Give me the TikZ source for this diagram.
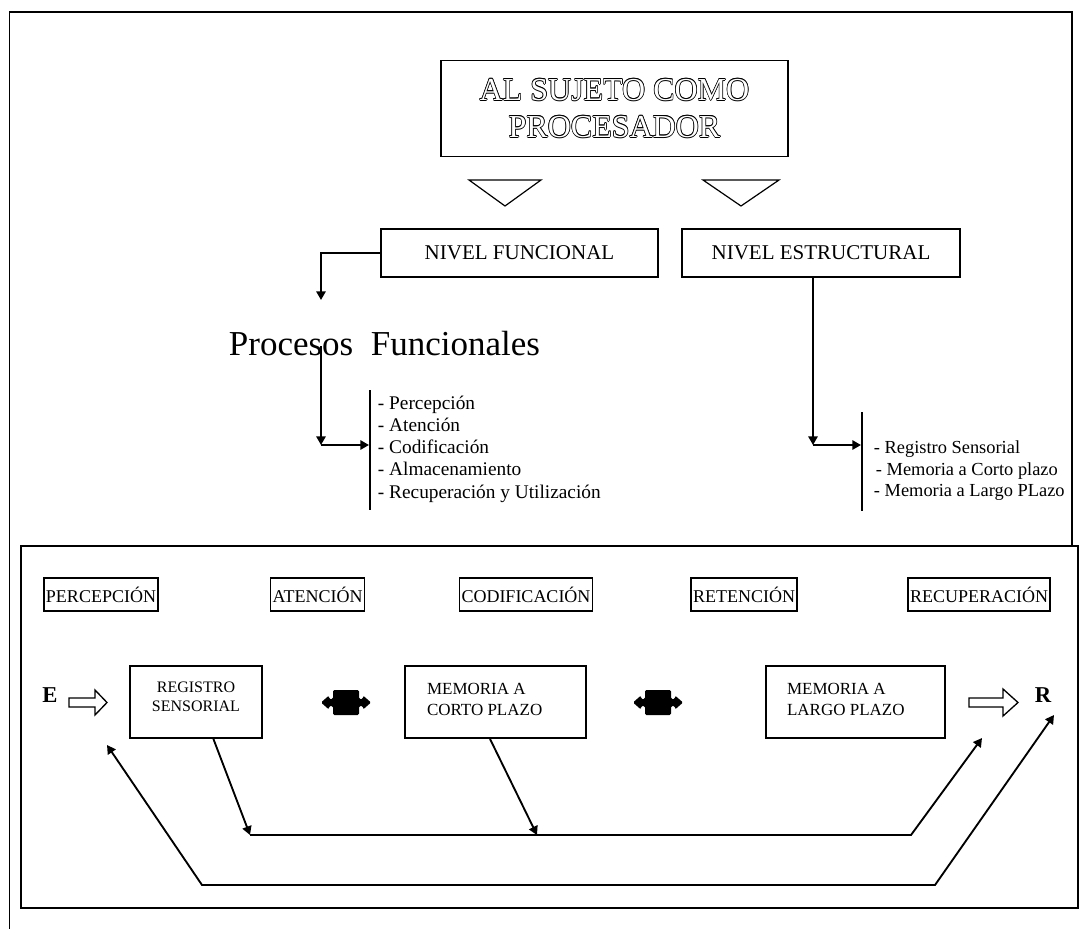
\documentclass[tikz,border=0pt]{standalone}
\usepackage{fontspec}
\setmainfont{Liberation Serif}
\usetikzlibrary{arrows.meta,calc}
% raise content by #1 px without changing its reported size
\newcommand\upby[2]{\raisebox{\dimexpr #1pt*3/4\relax}[\height][\depth]{#2}}
% hollow lettering: black ring of offset copies under a white copy
\newcommand\ringed[1]{\leavevmode
  \rlap{\hspace{0.5pt}#1}\rlap{\hspace{-0.5pt}#1}%
  \rlap{\raisebox{0.5pt}{#1}}\rlap{\raisebox{-0.5pt}{#1}}%
  \rlap{\hspace{0.35pt}\raisebox{0.35pt}{#1}}\rlap{\hspace{-0.35pt}\raisebox{0.35pt}{#1}}%
  \rlap{\hspace{0.35pt}\raisebox{-0.35pt}{#1}}\rlap{\hspace{-0.35pt}\raisebox{-0.35pt}{#1}}%
  \rlap{\color{white}#1}\phantom{#1}}
\begin{document}
\begin{tikzpicture}[x=0.75pt,y=-0.75pt,line width=1.4pt,
  >={Triangle[length=6.5pt,width=7pt]},
  w/.style={minimum width=#1*0.75pt},
  h/.style={minimum height=#1*0.75pt},
  box/.style={draw,rectangle,inner sep=0pt},
  tag/.style={draw,inner xsep=1.5pt,inner ysep=0pt,minimum height=24.75pt,
    font=\fontsize{13.5}{16}\selectfont},
  item/.style={anchor=base west,inner sep=0pt,font=\fontsize{14.5}{17}\selectfont},
  ritem/.style={anchor=base west,inner sep=0pt,font=\fontsize{13.8}{17}\selectfont},
  hollowarrow/.style={line width=1pt,fill=white},
  twoway/.pic={\fill[rounded corners=1pt] (-25,0) -- (-17,-7) -- (-17,-3.5) -- (-13,-3.5)
     -- (-13,-12.5) -- (13,-12.5) -- (13,-3.5) -- (17,-3.5) -- (17,-7) -- (25,0)
     -- (17,7) -- (17,3.5) -- (13,3.5) -- (13,12.5) -- (-13,12.5) -- (-13,3.5)
     -- (-17,3.5) -- (-17,7) -- cycle;}
]
\useasboundingbox (0,0) rectangle (1081,928);

% page frame
\draw (9.5,940) -- (9.5,12) -- (1072,12) -- (1072,546);

% heading
\node[box,w=347,h=96,align=center,font=\fontsize{24}{27.75}\selectfont] (title)
  at (614.5,108.5) {\ringed{AL SUJETO COMO}\\\ringed{PROCESADOR}};
\draw[line width=0.9pt] (469,180) -- (541,180) -- (505,206) -- cycle;
\draw[line width=0.9pt] (703,180) -- (779,180) -- (741,206) -- cycle;

% the two levels
\node[box,w=277,h=48,font=\fontsize{15.75}{18}\selectfont] (nf) at (519.5,253) {NIVEL FUNCIONAL};
\node[box,w=278,h=48,font=\fontsize{15.75}{18}\selectfont] (ne) at (821,253) {NIVEL ESTRUCTURAL};

% functional branch
\coordinate (pf-in) at (321,300);
\draw[->] (nf.west) -| (pf-in);
\node[anchor=base west,inner sep=0pt,font=\fontsize{26.25}{30}\selectfont] (pf)
  at (228,355) {Procesos~~Funcionales};
\coordinate (fl-top) at (321,346);
\coordinate (fl-corner) at (321,445);
\coordinate (fbar-top) at (370,390);
\coordinate (fbar-bot) at (370,510);
\coordinate (fbar-in) at (369,445);
\draw[->] (fl-top) -- (fl-corner);
\draw[->] (fl-corner) -- (fbar-in);
\draw (fbar-top) -- (fbar-bot);
\foreach \t [count=\i] in {Percepción,Atención,Codificación,Almacenamiento,Recuperación y Utilización}
  \node[item] (fi\i) at (377,{409+22.25*(\i-1)}) {- \t};

% structural branch
\coordinate (es-top) at (813,277);
\coordinate (es-corner) at (813,445);
\coordinate (ebar-top) at (862,412);
\coordinate (ebar-bot) at (862,511);
\coordinate (ebar-in) at (861,445);
\draw[->] (es-top) -- (es-corner);
\draw[->] (es-corner) -- (ebar-in);
\draw (ebar-top) -- (ebar-bot);
\node[ritem] (ei1) at (873,453) {- Registro Sensorial};
\node[ritem] (ei2) at (875,475) {- Memoria a Corto plazo};
\node[ritem] (ei3) at (873,496) {- Memoria a Largo PLazo};

% model panel
\draw (21,546) rectangle (1078,908);
\node[tag] (t1) at (101,594.5) {PERCEPCIÓN};
\node[tag] (t2) at (317.5,594.5) {ATENCIÓN};
\node[tag] (t3) at (526,594.5) {CODIFICACIÓN};
\node[tag] (t4) at (744,594.5) {RETENCIÓN};
\node[tag] (t5) at (979,594.5) {RECUPERACIÓN};

\node[anchor=base,inner sep=0pt,font=\bfseries\fontsize{17}{20}\selectfont] (E) at (50,702) {E};
\node[anchor=base,inner sep=0pt,font=\bfseries\fontsize{17}{20}\selectfont] (R) at (1043,702) {R};
\draw[hollowarrow] (69,698) -- (95,698) -- (95,690) -- (107,702.5) -- (95,715) -- (95,707) -- (69,707) -- cycle;
\draw[hollowarrow] (969,698) -- (1003,698) -- (1003,689) -- (1018,702.5) -- (1003,716) -- (1003,707) -- (969,707) -- cycle;

\node[box,w=132,h=72,font=\fontsize{12}{14.25}\selectfont] (rs) at (196,702)
  {\upby{4.3}{\begin{tabular}{@{}c@{}}REGISTRO\\SENSORIAL\end{tabular}}};
\node[box,w=181,h=72,font=\fontsize{12.75}{15.75}\selectfont] (mc) at (495.5,702)
  {\upby{1.7}{\makebox[102.75pt][l]{\begin{tabular}{@{}l@{}}MEMORIA A\\CORTO PLAZO\end{tabular}}}};
\node[box,w=179,h=72,font=\fontsize{12.75}{15.75}\selectfont] (ml) at (855.5,702)
  {\upby{1.7}{\makebox[102.75pt][l]{\begin{tabular}{@{}l@{}}MEMORIA A\\LARGO PLAZO\end{tabular}}}};

\pic at (346,702.5) {twoway};
\pic at (658,702.5) {twoway};

% feedback paths
\coordinate (u-left) at (250,835);
\coordinate (u-mid) at (537,835);
\coordinate (u-bend) at (911,835);
\coordinate (u-tip) at (982,738);
\draw[->] ($(rs.south west)!0.63!(rs.south east)$) -- (u-left);
\draw[->] ($(mc.south west)!0.47!(mc.south east)$) -- (u-mid);
\draw[->] (u-left) -- (u-bend) -- (u-tip);
\coordinate (l-tip1) at (107,745);
\coordinate (l-b1) at (202,885);
\coordinate (l-b2) at (935,885);
\coordinate (l-tip2) at (1054,715);
\draw[<->] (l-tip1) -- (l-b1) -- (l-b2) -- (l-tip2);
\end{tikzpicture}
\end{document}
